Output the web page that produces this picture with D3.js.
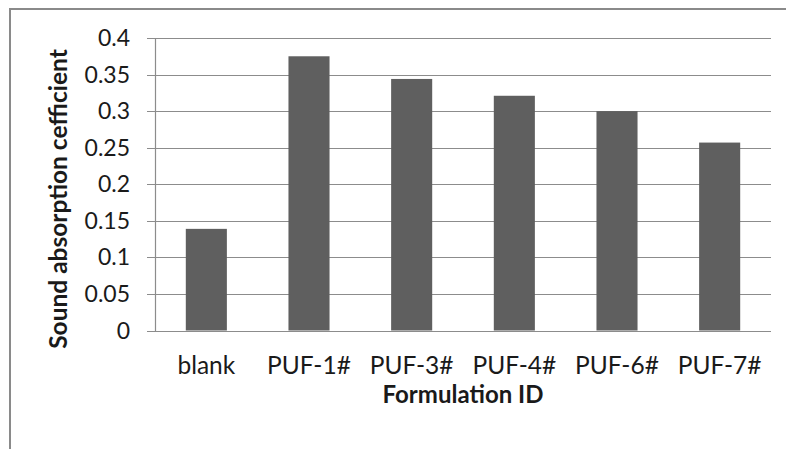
<!DOCTYPE html>
<html lang="en">
<head>
<meta charset="UTF-8">
<title>Sound absorption coefficient</title>
<script src="https://d3js.org/d3.v7.min.js"></script>
<style>
  body { margin: 0; background: #fff; }
  text { font-family: Lato, "DejaVu Sans", sans-serif; fill: #1a1a1a; }
</style>
</head>
<body>
<script>

    var categories = ["blank", "PUF-1#", "PUF-3#", "PUF-4#", "PUF-6#", "PUF-7#"];
    var values = [0.139, 0.375, 0.344, 0.321, 0.300, 0.257];
    var yTicks = [0, 0.05, 0.1, 0.15, 0.2, 0.25, 0.3, 0.35, 0.4];
    var xTitle = "Formulation ID";
    var yTitle = "Sound absorption cefficient";

    var width = 786, height = 449;

    var svg = d3.select("body").append("svg")
        .attr("width", width)
        .attr("height", height);

    // chart frame (only left and top edges show)
    svg.append("path")
        .attr("d", "M10,449V9H786")
        .attr("fill", "none")
        .attr("stroke", "#8a8a8a")
        .attr("stroke-width", 2);

    var x = d3.scaleBand()
        .domain(categories)
        .range([155, 771])
        .paddingInner(0.6)
        .paddingOuter(0.3);

    var y = d3.scaleLinear()
        .domain([0, 0.4])
        .range([330.5, 38]);

    // gridlines + outward tick marks
    svg.append("g")
        .selectAll("line")
        .data(yTicks)
        .join("line")
        .attr("x1", 147)
        .attr("x2", 771)
        .attr("y1", d => Math.round(y(d)) + 0.5)
        .attr("y2", d => Math.round(y(d)) + 0.5)
        .attr("stroke", "#8c8c8c")
        .attr("stroke-width", 1.2);

    // y axis line
    svg.append("line")
        .attr("x1", 155.5).attr("x2", 155.5)
        .attr("y1", y(0.4)).attr("y2", y(0) + 1)
        .attr("stroke", "#8c8c8c")
        .attr("stroke-width", 1.2);

    // bars
    svg.append("g")
        .selectAll("rect")
        .data(values)
        .join("rect")
        .attr("x", (d, i) => x(categories[i]))
        .attr("width", x.bandwidth())
        .attr("y", d => y(d))
        .attr("height", d => y(0) - y(d))
        .attr("fill", "#5f5f5f");

    // y tick labels
    svg.append("g")
        .selectAll("text")
        .data(yTicks)
        .join("text")
        .attr("x", 130)
        .attr("y", d => y(d))
        .attr("dy", "0.35em")
        .attr("text-anchor", "end")
        .style("font-size", "23px")
        .text(d => d3.format("")(d));

    // x tick labels
    svg.append("g")
        .selectAll("text")
        .data(categories)
        .join("text")
        .attr("x", d => x(d) + x.bandwidth() / 2)
        .attr("y", 374)
        .attr("text-anchor", "middle")
        .style("font-size", "24.5px")
        .text(d => d);

    // axis titles
    svg.append("text")
        .attr("x", 463)
        .attr("y", 403)
        .attr("text-anchor", "middle")
        .style("font-size", "24px")
        .style("font-weight", "bold")
        .text(xTitle);

    svg.append("text")
        .attr("transform", "translate(67,199) rotate(-90)")
        .attr("text-anchor", "middle")
        .style("font-size", "24.5px")
        .style("font-weight", "bold")
        .text(yTitle);

</script>
</body>
</html>
